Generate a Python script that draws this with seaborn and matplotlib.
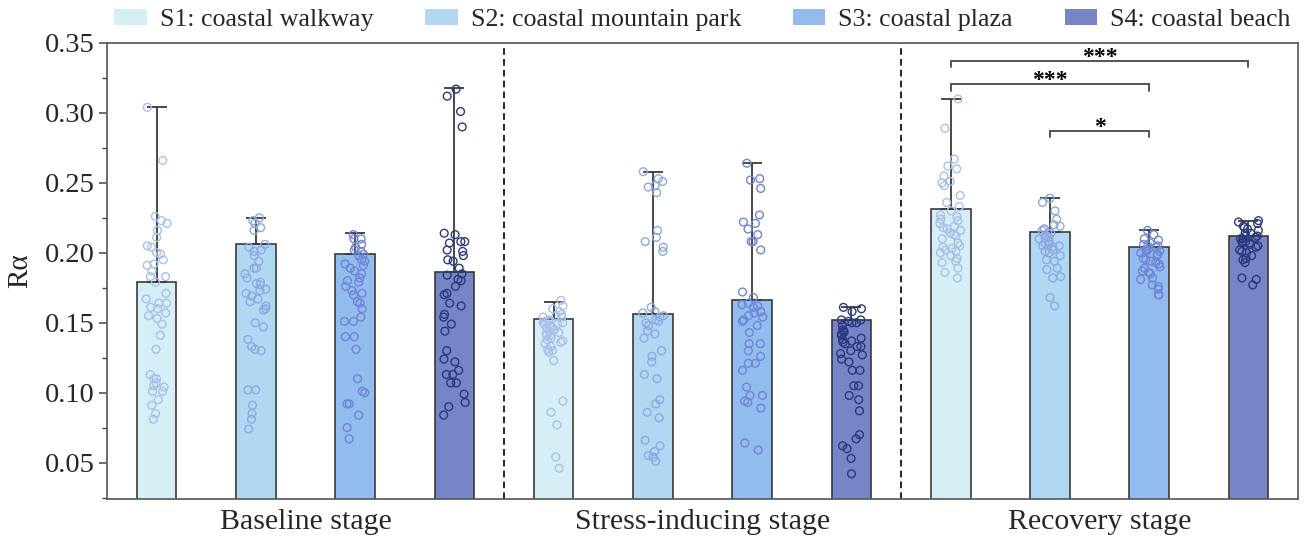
import numpy as np
import pandas as pd
import matplotlib
matplotlib.use("Agg")
import matplotlib.pyplot as plt
import matplotlib.patches as mpatches
from matplotlib.ticker import MultipleLocator
import seaborn as sns

# ---- data -------------------------------------------------------------
stages = ["Baseline stage", "Stress-inducing stage", "Recovery stage"]
sites = ["S1: coastal walkway", "S2: coastal mountain park",
         "S3: coastal plaza", "S4: coastal beach"]

# bar heights (mean Rα) and upper whisker (maximum) per stage, S1..S4
baseline_mean = [0.179, 0.206, 0.199, 0.186]
baseline_max = [0.304, 0.225, 0.214, 0.318]
stress_mean = [0.153, 0.156, 0.166, 0.152]
stress_max = [0.165, 0.258, 0.264, 0.161]
recovery_mean = [0.231, 0.215, 0.204, 0.212]
recovery_max = [0.310, 0.239, 0.216, 0.223]

# individual participant values
baseline_s1 = [0.304, 0.266, 0.226, 0.223, 0.221, 0.216, 0.211, 0.205, 0.204, 0.200, 0.199,
               0.195, 0.192, 0.191, 0.187, 0.183, 0.183, 0.179, 0.171, 0.167, 0.164, 0.164,
               0.161, 0.160, 0.157, 0.155, 0.153, 0.149, 0.141, 0.131, 0.113, 0.110, 0.110,
               0.107, 0.105, 0.104, 0.101, 0.101, 0.095, 0.091, 0.085, 0.081]
baseline_s2 = [0.225, 0.223, 0.221, 0.218, 0.216, 0.206, 0.204, 0.202, 0.201, 0.198, 0.194,
               0.189, 0.189, 0.185, 0.182, 0.179, 0.178, 0.177, 0.174, 0.173, 0.171, 0.169,
               0.167, 0.165, 0.162, 0.160, 0.159, 0.150, 0.147, 0.138, 0.133, 0.131, 0.130,
               0.102, 0.102, 0.091, 0.085, 0.081, 0.074]
baseline_s3 = [0.213, 0.210, 0.210, 0.206, 0.204, 0.202, 0.201, 0.199, 0.198, 0.195, 0.194,
               0.192, 0.191, 0.189, 0.187, 0.185, 0.182, 0.180, 0.179, 0.176, 0.173, 0.171,
               0.170, 0.165, 0.164, 0.160, 0.154, 0.151, 0.151, 0.140, 0.140, 0.131, 0.110,
               0.101, 0.100, 0.092, 0.092, 0.084, 0.075, 0.067]
baseline_s4 = [0.317, 0.312, 0.301, 0.290, 0.214, 0.213, 0.208, 0.208, 0.207, 0.202, 0.201,
               0.198, 0.195, 0.194, 0.189, 0.185, 0.184, 0.181, 0.180, 0.176, 0.171, 0.170,
               0.164, 0.162, 0.156, 0.154, 0.149, 0.144, 0.130, 0.124, 0.122, 0.116, 0.113,
               0.113, 0.107, 0.107, 0.099, 0.093, 0.090, 0.084]
stress_s1 = [0.166, 0.162, 0.160, 0.158, 0.156, 0.155, 0.154, 0.154, 0.152, 0.151, 0.151,
             0.150, 0.150, 0.149, 0.149, 0.148, 0.147, 0.146, 0.145, 0.145, 0.144, 0.143,
             0.142, 0.141, 0.141, 0.139, 0.138, 0.137, 0.136, 0.135, 0.133, 0.131, 0.130,
             0.129, 0.123, 0.094, 0.086, 0.077, 0.054, 0.046]
stress_s2 = [0.258, 0.253, 0.251, 0.248, 0.247, 0.243, 0.216, 0.211, 0.208, 0.204, 0.201,
             0.161, 0.158, 0.157, 0.155, 0.154, 0.152, 0.151, 0.150, 0.148, 0.144, 0.142,
             0.139, 0.130, 0.126, 0.122, 0.113, 0.110, 0.095, 0.092, 0.086, 0.082, 0.066,
             0.062, 0.058, 0.055, 0.054, 0.051]
stress_s3 = [0.264, 0.253, 0.252, 0.246, 0.227, 0.222, 0.221, 0.217, 0.213, 0.208, 0.208,
             0.202, 0.172, 0.168, 0.164, 0.163, 0.162, 0.161, 0.158, 0.157, 0.155, 0.154,
             0.152, 0.151, 0.148, 0.143, 0.135, 0.135, 0.130, 0.126, 0.121, 0.121, 0.116,
             0.104, 0.098, 0.098, 0.094, 0.093, 0.089, 0.064, 0.059]
stress_s4 = [0.161, 0.160, 0.158, 0.152, 0.152, 0.151, 0.150, 0.150, 0.148, 0.145, 0.144,
             0.143, 0.142, 0.141, 0.139, 0.138, 0.137, 0.136, 0.135, 0.133, 0.133, 0.130,
             0.128, 0.127, 0.124, 0.122, 0.116, 0.116, 0.105, 0.105, 0.098, 0.095, 0.087,
             0.070, 0.067, 0.062, 0.060, 0.053, 0.042]
recovery_s1 = [0.310, 0.289, 0.267, 0.262, 0.260, 0.255, 0.251, 0.250, 0.248, 0.241, 0.236,
               0.233, 0.230, 0.227, 0.226, 0.224, 0.223, 0.221, 0.219, 0.218, 0.217, 0.216,
               0.214, 0.213, 0.212, 0.210, 0.207, 0.205, 0.204, 0.203, 0.202, 0.201, 0.200,
               0.198, 0.196, 0.194, 0.193, 0.189, 0.186, 0.182]
recovery_s2 = [0.239, 0.236, 0.230, 0.224, 0.220, 0.219, 0.217, 0.217, 0.216, 0.214, 0.214,
               0.212, 0.211, 0.211, 0.210, 0.208, 0.207, 0.206, 0.205, 0.205, 0.204, 0.202,
               0.201, 0.200, 0.198, 0.195, 0.194, 0.189, 0.188, 0.183, 0.182, 0.168, 0.162]
recovery_s3 = [0.216, 0.213, 0.210, 0.209, 0.207, 0.206, 0.205, 0.205, 0.204, 0.203, 0.202,
               0.201, 0.201, 0.200, 0.199, 0.198, 0.196, 0.195, 0.194, 0.193, 0.192, 0.190,
               0.189, 0.187, 0.186, 0.185, 0.182, 0.181, 0.177, 0.176, 0.174, 0.170, 0.170]
recovery_s4 = [0.223, 0.222, 0.221, 0.219, 0.218, 0.217, 0.216, 0.214, 0.214, 0.212, 0.212,
               0.211, 0.210, 0.210, 0.208, 0.208, 0.207, 0.207, 0.206, 0.205, 0.204, 0.202,
               0.201, 0.200, 0.198, 0.196, 0.195, 0.193, 0.182, 0.181, 0.177]

# significance brackets within the recovery stage: (site a, site b, label, height)
recovery_brackets = [(0, 3, "***", 0.3374), (0, 2, "***", 0.3207), (1, 2, "*", 0.2874)]

bar_colors = ["#d6eef6", "#b0d8f3", "#92bbee", "#7585c5"]
point_colors = ["#a9c1ea", "#8ea9e2", "#6f86d6", "#2b3a80"]

# ---- tidy frames ------------------------------------------------------
means = [baseline_mean, stress_mean, recovery_mean]
maxima = [baseline_max, stress_max, recovery_max]
points = [[baseline_s1, baseline_s2, baseline_s3, baseline_s4],
          [stress_s1, stress_s2, stress_s3, stress_s4],
          [recovery_s1, recovery_s2, recovery_s3, recovery_s4]]

slots = [f"{st}|{si}" for st in stages for si in sites]
bar_rows, pt_rows = [], []
for gi, st in enumerate(stages):
    for si_i, si in enumerate(sites):
        slot = f"{st}|{si}"
        bar_rows.append({"slot": slot, "site": si, "mean": means[gi][si_i],
                         "max": maxima[gi][si_i]})
        for v in points[gi][si_i]:
            pt_rows.append({"slot": slot, "site": si, "value": v})
bars = pd.DataFrame(bar_rows)
pts = pd.DataFrame(pt_rows)

# ---- figure -----------------------------------------------------------
sns.set_style("ticks")
plt.rcParams["font.family"] = ["Liberation Serif", "DejaVu Serif"]
plt.rcParams["axes.unicode_minus"] = False

fig = plt.figure(figsize=(13.13, 5.38), dpi=100)
ax = fig.add_axes([0.0815, 0.0725, 0.9071, 0.8476])

sns.barplot(data=bars, x="slot", y="mean", hue="site", order=slots, hue_order=sites,
            palette=bar_colors, width=0.4, dodge=False, saturation=1,
            edgecolor="#3a3a3a", linewidth=1.2, errorbar=None, legend=False,
            zorder=2, ax=ax)

# upper whisker from the mean to the maximum
xpos = np.arange(len(slots))
ax.errorbar(xpos, bars["mean"], yerr=[np.zeros(len(bars)), bars["max"] - bars["mean"]],
            fmt="none", ecolor="#3a3a3a", elinewidth=1.3, capsize=7.5, capthick=1.3,
            zorder=3)

np.random.seed(7)
n_before = len(ax.collections)
sns.stripplot(data=pts, x="slot", y="value", hue="site", order=slots, hue_order=sites,
              palette=point_colors, jitter=0.11, size=5.6, dodge=False, legend=False,
              zorder=4, ax=ax)
for coll in ax.collections[n_before:]:
    fc = coll.get_facecolors()
    coll.set_edgecolors(fc)
    coll.set_facecolors("none")
    coll.set_linewidth(1.0)

# stage separators
for xv in (3.5, 7.5):
    ax.axvline(xv, color="black", lw=1.2, ls=(0, (4, 2.5)), zorder=1)

# significance brackets
tick = 0.0048
base = 8
for a, b, lab, h in recovery_brackets:
    xa, xb = base + a, base + b
    ax.plot([xa, xa, xb, xb], [h - tick, h, h, h - tick], color="#555555", lw=1.4,
            zorder=5, solid_joinstyle="miter")
    ax.text((xa + xb) / 2, h + 0.0022, lab, ha="center", va="center",
            fontsize=17, fontweight="bold", color="black")

# axes styling
ax.set_xlim(-0.5, len(slots) - 0.5)
ax.set_ylim(0.024, 0.35)
ax.yaxis.set_major_locator(MultipleLocator(0.05))
ax.yaxis.set_minor_locator(MultipleLocator(0.025))
ax.set_yticks([0.05, 0.10, 0.15, 0.20, 0.25, 0.30, 0.35])
ax.set_yticklabels([f"{v:.2f}" for v in [0.05, 0.10, 0.15, 0.20, 0.25, 0.30, 0.35]])
ax.tick_params(axis="y", which="major", length=6, width=1.1, labelsize=20.5,
               color="#444444", pad=3)
ax.tick_params(axis="y", which="minor", length=3.5, width=1.0, color="#444444")
ax.set_xticks([1.5, 5.5, 9.5])
ax.set_xticklabels(stages, fontsize=21.5)
ax.tick_params(axis="x", length=0, pad=7)
ax.set_xlabel("")
ax.set_ylabel("Rα", fontsize=21, labelpad=8)
for sp in ax.spines.values():
    sp.set_visible(True)
    sp.set_color("#555555")
    sp.set_linewidth(1.2)

handles = [mpatches.Patch(facecolor=c, edgecolor="none", label=s)
           for c, s in zip(bar_colors, sites)]
fig.legend(handles=handles, loc="center", bbox_to_anchor=(0.535, 0.963), ncol=4,
           frameon=False, fontsize=18.7, handlelength=1.25, handleheight=0.6,
           handletextpad=0.5, columnspacing=2.0, borderaxespad=0, borderpad=0)

fig.savefig("out.png", dpi=100)
